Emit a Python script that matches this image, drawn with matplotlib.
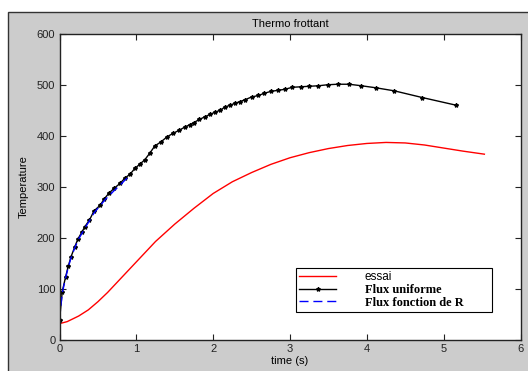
import matplotlib
matplotlib.use("Agg")
import matplotlib.pyplot as plt
from matplotlib.patches import Rectangle

# essai (mesure)
t_essai = [0, 0.1, 0.25, 0.375, 0.5, 0.625, 0.75, 1.0, 1.25, 1.5, 1.75, 2.0, 2.25,
           2.5, 2.75, 3.0, 3.25, 3.5, 3.75, 4.0, 4.25, 4.5, 4.75, 5.0, 5.25, 5.53]
T_essai = [32, 36, 47, 59, 75, 93, 113, 153, 193, 227, 258, 287, 310,
           328, 344, 357, 367, 375, 381, 385, 387, 386, 382, 376, 370, 364]

# flux uniforme
t_unif = [0, 0.036, 0.08, 0.115, 0.15, 0.20, 0.24, 0.29, 0.33, 0.39, 0.45, 0.53,
          0.58, 0.64, 0.71, 0.79, 0.85, 0.92, 0.98, 1.05, 1.11, 1.18, 1.24, 1.32,
          1.40, 1.48, 1.56, 1.63, 1.70, 1.75, 1.82, 1.89, 1.96, 2.02, 2.09, 2.15,
          2.22, 2.29, 2.35, 2.42, 2.50, 2.59, 2.66, 2.75, 2.84, 2.93, 3.03, 3.14,
          3.25, 3.37, 3.49, 3.62, 3.77, 3.93, 4.12, 4.36, 4.72, 5.16]
T_unif = [39, 95, 124, 145, 163, 183, 198, 211, 222, 235, 253, 264,
          276, 287, 297, 307, 317, 325, 336, 345, 353, 367, 380, 388,
          398, 405, 411, 417, 422, 426, 432, 437, 442, 446, 450, 456,
          460, 464, 467, 471, 476, 479, 483, 487, 489, 491, 495, 496,
          497, 498, 500, 501, 501, 498, 494, 488, 475, 460]

# flux fonction de R
t_R = [0, 0.036, 0.08, 0.115, 0.15, 0.2, 0.25, 0.3, 0.35, 0.4, 0.45, 0.5, 0.55,
       0.6, 0.65, 0.7, 0.75, 0.8, 0.85, 0.92]
T_R = [40, 92, 122, 143, 161, 181, 198, 211, 224, 236, 249, 258, 267,
       276, 283, 291, 298, 305, 313, 322]

plt.rcParams['font.family'] = ['Liberation Sans', 'DejaVu Sans']
plt.rcParams['lines.scale_dashes'] = False

fig = plt.figure(figsize=(5.28, 3.71), dpi=100)
fig.patch.set_facecolor('white')
# fond gris facon fenetre matlab
fig.patches.append(Rectangle((8 / 528, -0.01), 1.0, 1 - 12 / 371 + 0.01,
                             transform=fig.transFigure, facecolor='#cccccc',
                             edgecolor='#333333', linewidth=1.0, zorder=-10))

ax = fig.add_axes([59.5 / 528, 31 / 371, 461 / 528, 306.3 / 371])
ax.set_facecolor('white')

ax.plot(t_essai, T_essai, color='red', linewidth=1.0, label='essai')
ax.plot(t_unif, T_unif, color='black', linewidth=1.0, marker='*',
        markersize=3, label='Flux uniforme')
ax.plot(t_R, T_R, color='blue', linewidth=1.0, dashes=(6.5, 3.5),
        label='Flux fonction de R')

ax.set_xlim(0, 6)
ax.set_ylim(0, 600)
ax.set_xticks(range(0, 7))
ax.set_yticks(range(0, 601, 100))
ax.tick_params(direction='in', top=True, right=True, length=4, width=0.8,
               labelsize=8, colors='#222222', pad=3)
for s in ax.spines.values():
    s.set_linewidth(1.0)
    s.set_color('#222222')

ax.set_title('Thermo frottant', fontsize=8, pad=5)
ax.set_xlabel('time (s)', fontsize=8, labelpad=1)
ax.set_ylabel('Temperature', fontsize=8, labelpad=6)

leg = ax.legend(loc='lower left', bbox_to_anchor=(236 / 461, 27.7 / 306.3, 196 / 461, 46.3 / 306.3),
                mode='expand', fancybox=False, framealpha=1, edgecolor='black',
                fontsize=9, handlelength=2.95, handletextpad=2.3, borderpad=0.3,
                labelspacing=0.05, borderaxespad=0)
leg.get_frame().set_linewidth(0.8)
texts = leg.get_texts()
texts[0].set_fontsize(8.5)
texts[1].set_fontfamily('Liberation Serif')
texts[1].set_fontweight('bold')
texts[2].set_fontfamily('Liberation Serif')
texts[2].set_fontweight('bold')

fig.savefig('out.png', dpi=100, facecolor=fig.get_facecolor())
